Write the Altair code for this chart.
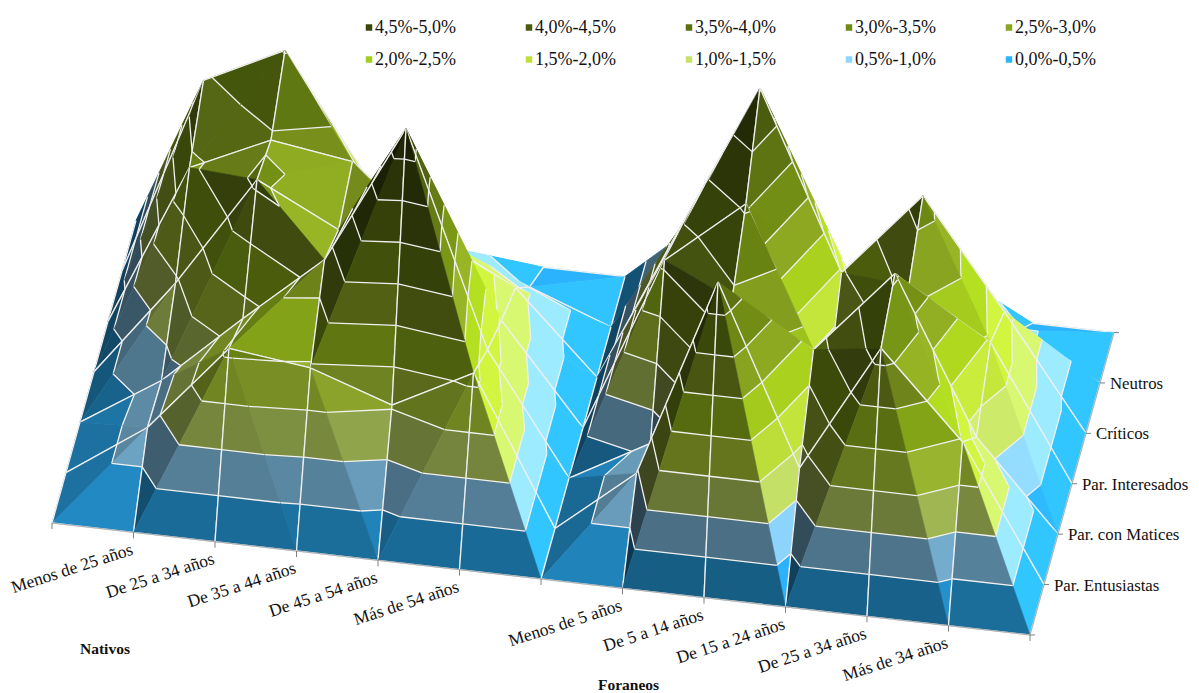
import altair as alt

# ---- data ----
categories = ["", "Menos de 25 años", "De 25 a 34 años", "De 35 a 44 años", "De 45 a 54 años",
              "Más de 54 años", "", "Menos de 5 años", "De 5 a 14 años", "De 15 a 24 años",
              "De 25 a 34 años", "Más de 34 años", ""]
series_names = ["Par. Entusiastas", "Par. con Matices", "Par. Interesados", "Críticos", "Neutros"]
par_entusiastas = [0, 0.80, 2.10, 1.95, 1.54, 2.15, 0, 0.95, 3.90, 1.30, 3.20, 1.96, 0]
par_matices     = [0, 0.75, 1.80, 2.80, 4.87, 1.75, 0, 0.65, 2.90, 2.30, 3.56, 1.29, 0]
par_interesados = [0, 1.44, 3.10, 2.50, 2.60, 1.44, 0, 2.60, 3.57, 0.98, 2.65, 1.94, 0]
criticos        = [0, 2.40, 2.94, 2.76, 1.80, 1.18, 0, 2.30, 4.53, 1.95, 3.22, 1.65, 0]
neutros         = [0, 2.94, 3.52, 1.80, 0.90, 0.45, 0, 1.60, 2.80, 1.00, 1.50, 0.63, 0]
band_labels = ["0,0%-0,5%", "0,5%-1,0%", "1,0%-1,5%", "1,5%-2,0%", "2,0%-2,5%",
               "2,5%-3,0%", "3,0%-3,5%", "3,5%-4,0%", "4,0%-4,5%", "4,5%-5,0%"]
band_colors = ["#2db4ff", "#8fd6ff", "#c6e267", "#bfe03a", "#a5cc1e",
               "#8aa521", "#6f8a14", "#5c7012", "#4a5a0e", "#3a4509"]
legend_order = list(range(9, -1, -1))

# ---- oblique view of the surface ----
blank = [0] * 13
grid = [blank, par_entusiastas, par_matices, par_interesados, criticos, neutros, blank]
OX, OY = 52.0, 523.0
IX, IY = 81.5, 9.33
JX, JY = 14.0, -50.4
ZH = 68.0
STEP = 0.5


def proj(i, j, v=0.0):
    return [round(OX + IX * i + JX * j, 2), round(OY + IY * i + JY * j - ZH * v, 2)]


def clip(poly, level, keep_above):
    out = []
    for a, b in zip(poly, poly[1:] + poly[:1]):
        ain = a[2] >= level if keep_above else a[2] <= level
        bin_ = b[2] >= level if keep_above else b[2] <= level
        if ain:
            out.append(a)
        if ain != bin_:
            t = (level - a[2]) / (b[2] - a[2])
            out.append(tuple(a[k] + t * (b[k] - a[k]) for k in range(3)))
    return out


def shade_color(hex_col, s):
    ch = [int(hex_col[k:k + 2], 16) for k in (1, 3, 5)]
    return "#" + "".join(f"{min(255, int(c * s)):02x}" for c in ch)


def shading(tri):
    (x1, y1, z1), (x2, y2, z2), (x3, y3, z3) = tri
    ax, ay, az = x2 - x1, y2 - y1, z2 - z1
    bx, by, bz = x3 - x1, y3 - y1, z3 - z1
    nx, ny, nz = ay * bz - az * by, az * bx - ax * bz, ax * by - ay * bx
    if nz < 0:
        nx, ny, nz = -nx, -ny, -nz
    m = (nx * nx + ny * ny + nz * nz) ** 0.5
    return min(1.1, 0.63 + 0.40 * nx / m + 0.19 * ny / m + 0.32 * nz / m)


features = []


def add_line(pts, colour="#f0f0f0", w=1.3):
    features.append({"type": "Feature",
                     "geometry": {"type": "LineString", "coordinates": pts},
                     "properties": {"c": "transparent", "s": colour, "w": w}})


def add_poly(pts, colour):
    features.append({"type": "Feature",
                     "geometry": {"type": "Polygon", "coordinates": [pts + pts[:1]]},
                     "properties": {"c": colour, "s": colour, "w": 0.6}})


def add_triangle(tri, edges):
    s = shading(tri)
    for b, col in enumerate(band_colors):
        lo, hi = b * STEP, (b + 1) * STEP
        poly = clip(clip(list(tri), lo, True), hi, False)
        if len(poly) >= 3:
            add_poly([proj(p[0], p[1], p[2]) for p in poly], shade_color(col, s))
    for k in range(1, len(band_colors)):
        lev = k * STEP
        cuts = []
        for a, b in zip(tri, tri[1:] + tri[:1]):
            if (a[2] - lev) * (b[2] - lev) < 0:
                t = (lev - a[2]) / (b[2] - a[2])
                cuts.append(proj(a[0] + t * (b[0] - a[0]), a[1] + t * (b[1] - a[1]), lev))
        if len(cuts) == 2:
            add_line(cuts)
    for e in edges:
        add_line([proj(*e[0]), proj(*e[1])])


for j in range(len(grid) - 2, -1, -1):
    for i in range(12):
        p00 = (i, j, grid[j][i])
        p10 = (i + 1, j, grid[j][i + 1])
        p01 = (i, j + 1, grid[j + 1][i])
        p11 = (i + 1, j + 1, grid[j + 1][i + 1])
        # each cell folds along the diagonal joining its two higher corners
        if p00[2] + p11[2] >= p10[2] + p01[2]:
            add_triangle([p00, p01, p11], [(p00, p01), (p01, p11)])
            add_triangle([p00, p10, p11], [(p00, p10), (p10, p11)])
        else:
            add_triangle([p10, p11, p01], [(p10, p11), (p11, p01)])
            add_triangle([p00, p10, p01], [(p00, p10), (p00, p01)])

# axis edges and ticks
add_line([proj(0, 0), proj(12, 0)], "#9a9a9a", 0.8)
add_line([proj(12, 0), proj(12, 6)], "#9a9a9a", 0.8)
for i in range(13):
    x, y = proj(i, 0)
    add_line([[x, y], [x, y + 6]], "#808080", 1)
for j in range(7):
    x, y = proj(12, j)
    add_line([[x, y], [x + 5, y]], "#808080", 1)

W, H = 1183, 685

surface = alt.Chart(alt.InlineData(values=features)).mark_geoshape().encode(
    fill=alt.Fill("properties.c:N", scale=None, legend=None),
    stroke=alt.Stroke("properties.s:N", scale=None, legend=None),
    strokeWidth=alt.StrokeWidth("properties.w:Q", scale=None, legend=None),
)

FONT = "Liberation Serif"
cat_rows = []
for i, name in enumerate(categories):
    if name:
        x, y = proj(i, 0)
        cat_rows.append({"x": x - 1, "y": y + 17, "t": name})
cat_text = alt.Chart(alt.Data(values=cat_rows)).mark_text(
    font=FONT, fontSize=17.5, angle=342, align="right", baseline="middle", color="#111111"
).encode(longitude="x:Q", latitude="y:Q", text="t:N")

ser_rows = []
for j, name in enumerate(series_names, start=1):
    x, y = proj(12, j)
    ser_rows.append({"x": x + 10, "y": y + 1, "t": name})
ser_text = alt.Chart(alt.Data(values=ser_rows)).mark_text(
    font=FONT, fontSize=16.8, align="left", baseline="middle", color="#111111"
).encode(longitude="x:Q", latitude="y:Q", text="t:N")

grp_rows = [{"x": 80, "y": 649, "t": "Nativos"}, {"x": 598, "y": 685, "t": "Foraneos"}]
grp_text = alt.Chart(alt.Data(values=grp_rows)).mark_text(
    font=FONT, fontSize=15.5, fontWeight="bold", align="left", baseline="middle", color="#111111"
).encode(longitude="x:Q", latitude="y:Q", text="t:N")

leg_rows = []
for n, b in enumerate(legend_order):
    col, row = n % 5, n // 5
    leg_rows.append({"x": 369 + 160 * col, "y": 27.5 + 32 * row, "t": band_labels[b], "c": band_colors[b]})
leg_sq = alt.Chart(alt.Data(values=leg_rows)).mark_square(size=42, opacity=1).encode(
    longitude="x:Q", latitude="y:Q", fill=alt.Fill("c:N", scale=None, legend=None)
)
leg_text = alt.Chart(alt.Data(values=leg_rows)).transform_calculate(tx="datum.x + 6").mark_text(
    font=FONT, fontSize=18, align="left", baseline="middle", color="#111111"
).encode(longitude="tx:Q", latitude="y:Q", text="t:N")

chart = alt.layer(surface, cat_text, ser_text, grp_text, leg_sq, leg_text).project(
    type="identity", scale=1, translate=[-8, -8]
).properties(
    width=W, height=H, padding=0, autosize=alt.AutoSizeParams(type="none")
).configure_view(stroke=None)

chart.save("out.html", embed_options={"renderer": "svg", "actions": False})
